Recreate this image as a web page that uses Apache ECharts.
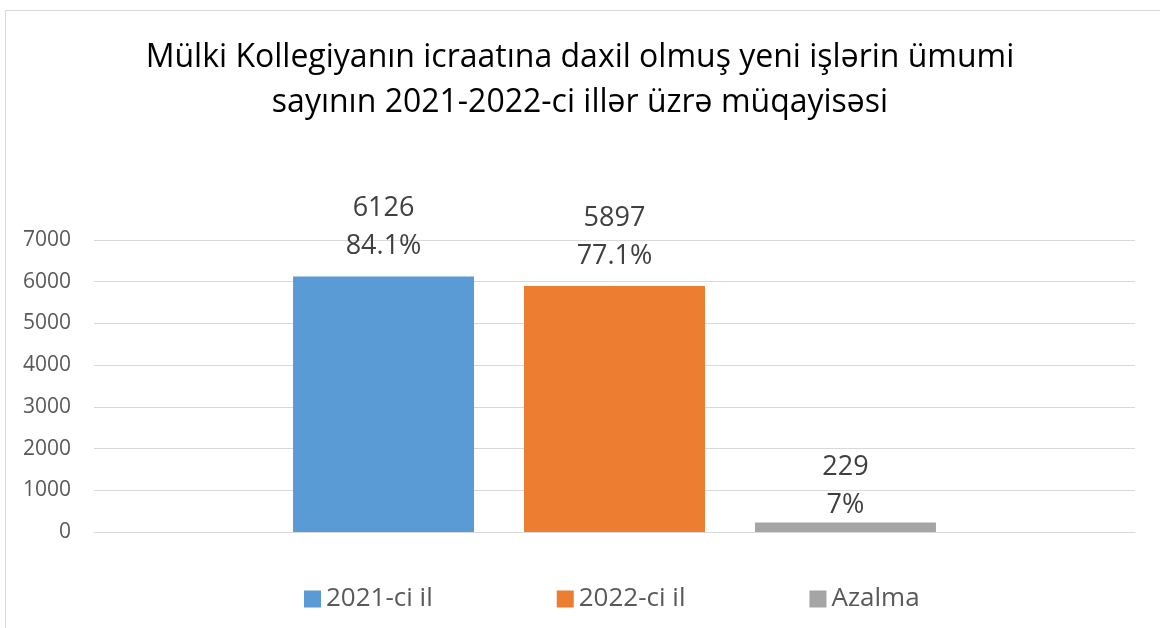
<!DOCTYPE html>
<html>
<head>
<meta charset="utf-8">
<title>Mülki Kollegiya</title>
<script src="https://cdn.jsdelivr.net/npm/echarts@6/dist/echarts.min.js"></script>
<style>
  html, body { margin: 0; padding: 0; background: #fff; }
  #frame { position: absolute; left: 5px; top: 10px; width: 1160px; height: 640px; border: 1px solid #d9d9d9; box-sizing: border-box; }
  #chart { position: absolute; left: 0; top: 0; width: 1160px; height: 628px; }
</style>
</head>
<body>
<div id="frame"></div>
<div id="chart"></div>
<script>
  var titleText = 'Mülki Kollegiyanın icraatına daxil olmuş yeni işlərin ümumi\nsayının 2021-2022-ci illər üzrə müqayisəsi';
  var categories = [''];
  var seriesNames = ['2021-ci il', '2022-ci il', 'Azalma'];
  var seriesValues = [6126, 5897, 229];
  var seriesPercents = ['84.1%', '77.1%', '7%'];
  var seriesColors = ['#5b9bd5', '#ed7d31', '#a5a5a5'];
  var yTicks = { min: 0, max: 7000, interval: 1000 };

  // label gap above each bar (the small bar's label sits closer in the original)
  var labelGaps = [11, 11, -2];

  var font = 'Open Sans, Noto Sans, sans-serif';
  var chart = echarts.init(document.getElementById('chart'));

  var series = seriesNames.map(function (name, i) {
    return {
      name: name,
      type: 'bar',
      data: [seriesValues[i]],
      barWidth: 181,
      barGap: '27.6%',
      itemStyle: { color: seriesColors[i] },
      label: {
        show: true,
        position: 'top',
        distance: labelGaps[i],
        formatter: function (p) { return p.value + '\n' + seriesPercents[i]; },
        fontFamily: font,
        fontSize: 27,
        lineHeight: 38,
        color: '#404040'
      }
    };
  });

  chart.setOption({
    animation: false,
    title: {
      text: titleText,
      left: 'center',
      top: 30,
      textStyle: { fontFamily: font, fontSize: 32, fontWeight: 'normal', color: '#000', lineHeight: 45 }
    },
    legend: {
      top: 581,
      left: 299,
      itemWidth: 17,
      itemHeight: 17,
      itemGap: 124,
      icon: 'rect',
      textStyle: { fontFamily: font, fontSize: 26, color: '#595959' },
      data: seriesNames
    },
    grid: { left: 94, right: 25, top: 240, bottom: 96, containLabel: false },
    xAxis: {
      type: 'category',
      data: categories,
      axisLine: { lineStyle: { color: '#d9d9d9' } },
      axisTick: { show: false },
      axisLabel: { show: false }
    },
    yAxis: {
      type: 'value',
      min: yTicks.min,
      max: yTicks.max,
      interval: yTicks.interval,
      axisLine: { show: false },
      axisTick: { show: false },
      splitLine: { lineStyle: { color: '#d9d9d9', width: 1 } },
      axisLabel: {
        fontFamily: font, fontSize: 21, color: '#595959', margin: 23,
        formatter: function (v) { return String(v); }
      }
    },
    series: series
  });
</script>
</body>
</html>
